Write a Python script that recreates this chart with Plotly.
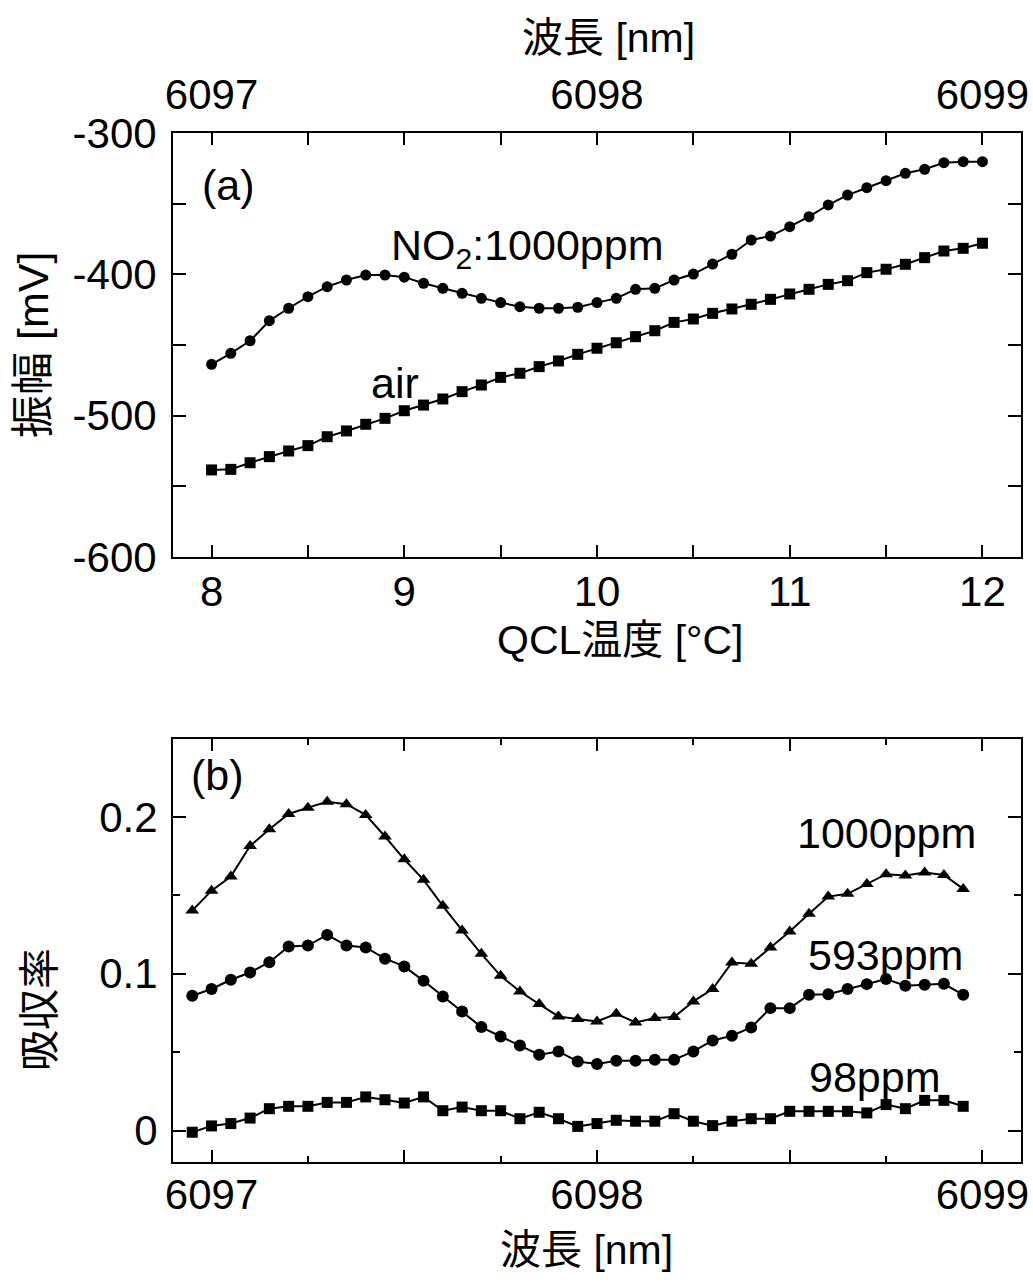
import numpy as np
import plotly.graph_objects as go

# ---- data -------------------------------------------------------------
# (a) amplitude vs. QCL temperature
temp_c = np.round(np.linspace(8.0, 12.0, 41), 2).tolist()
amp_no2 = [-463.7, -455.9, -447.0, -432.8, -424.0, -415.8, -408.7, -404.0, -400.5, -400.5,
           -402.0, -406.3, -409.9, -413.4, -417.0, -420.0, -422.9, -424.0, -424.0, -423.3,
           -420.0, -417.0, -410.6, -409.9, -404.0, -399.8, -392.7, -385.8, -375.7, -372.9,
           -366.3, -359.2, -350.9, -343.9, -338.7, -333.7, -328.5, -325.7, -321.0, -320.3,
           -320.3]
amp_air = [-538.4, -538.0, -533.3, -529.0, -525.0, -521.2, -514.9, -510.8, -506.1, -501.9,
           -496.5, -492.5, -488.2, -483.0, -478.3, -472.9, -470.0, -465.3, -461.3, -456.6,
           -452.3, -448.4, -444.1, -439.9, -434.0, -431.6, -427.6, -424.5, -421.2, -417.7,
           -413.9, -410.6, -407.1, -404.5, -398.8, -396.4, -392.9, -388.2, -383.5, -381.6,
           -378.0]
amp_ticks = [-600, -500, -400, -300]
amp_ticktext = ["-600", "-500", "-400", "-300"]

# (b) absorbance vs. wavelength
wavelength_nm = np.round(np.linspace(6096.95, 6098.95, 41), 3).tolist()
abs_1000 = [0.1403, 0.1530, 0.1620, 0.1815, 0.1921, 0.2019, 0.2059, 0.2097, 0.2081, 0.2013,
            0.1875, 0.1730, 0.1599, 0.1433, 0.1276, 0.1127, 0.0987, 0.0887, 0.0807, 0.0728,
            0.0711, 0.0696, 0.0745, 0.0690, 0.0718, 0.0724, 0.0824, 0.0903, 0.1072, 0.1064,
            0.1168, 0.1269, 0.1382, 0.1492, 0.1510, 0.1573, 0.1635, 0.1626, 0.1645, 0.1630,
            0.1541]
abs_593 = [0.0860, 0.0903, 0.0962, 0.1008, 0.1074, 0.1174, 0.1180, 0.1248, 0.1180, 0.1168,
           0.1096, 0.1047, 0.0955, 0.0855, 0.0760, 0.0660, 0.0600, 0.0543, 0.0484, 0.0505,
           0.0441, 0.0425, 0.0446, 0.0446, 0.0452, 0.0452, 0.0505, 0.0575, 0.0605, 0.0658,
           0.0781, 0.0781, 0.0866, 0.0870, 0.0903, 0.0934, 0.0966, 0.0924, 0.0930, 0.0936,
           0.0866]
abs_98 = [-0.0010, 0.0030, 0.0045, 0.0080, 0.0140, 0.0155, 0.0155, 0.0180, 0.0180, 0.0215,
          0.0197, 0.0176, 0.0215, 0.0127, 0.0150, 0.0127, 0.0127, 0.0076, 0.0117, 0.0076,
          0.0027, 0.0045, 0.0066, 0.0060, 0.0060, 0.0108, 0.0060, 0.0032, 0.0060, 0.0076,
          0.0076, 0.0123, 0.0123, 0.0123, 0.0123, 0.0113, 0.0166, 0.0140, 0.0193, 0.0193,
          0.0155]
wl_ticks = [6097, 6098, 6099]
wl_half_ticks = [6097.5, 6098.5]
abs_ticks = [0, 0.1, 0.2]
abs_ticktext = ["0", "0.1", "0.2"]

# ---- style ------------------------------------------------------------
W, H = 1033, 1282
LATIN = "Liberation Sans, Arial, Helvetica, sans-serif"
MIXED = "Liberation Sans, Noto Sans CJK JP, sans-serif"
FS_TICK = 42
FS_LABEL = 43
FS_TITLE = 41
BLACK = "#000000"

def px_x(p):
    return p / W

def px_y(p):
    return 1 - p / H

xdom = [px_x(173), px_x(1021)]
ydom_a = [px_y(557), px_y(133)]
ydom_b = [px_y(1162), px_y(738.5)]

line = dict(color=BLACK, width=2)

fig = go.Figure()

def add_series(x, y, symbol, size, xa, ya):
    fig.add_trace(go.Scatter(
        x=x, y=y, mode="lines+markers", xaxis=xa, yaxis=ya,
        line=line, marker=dict(symbol=symbol, size=size, color=BLACK),
        showlegend=False, hoverinfo="skip"))

add_series(temp_c, amp_no2, "circle", 11, "x", "y")
add_series(temp_c, amp_air, "square", 11, "x", "y")
add_series(wavelength_nm, abs_1000, "triangle-up", 12, "x3", "y3")
add_series(wavelength_nm, abs_593, "circle", 12, "x3", "y3")
add_series(wavelength_nm, abs_98, "square", 11, "x3", "y3")

# empty traces so the tick-only overlay axes are rendered
fig.add_trace(go.Scatter(x=[], y=[], xaxis="x2", yaxis="y", showlegend=False))
fig.add_trace(go.Scatter(x=[], y=[], xaxis="x4", yaxis="y3", showlegend=False))

tickfont = dict(family=LATIN, size=FS_TICK, color=BLACK)
common = dict(showline=True, linecolor=BLACK, linewidth=2, ticks="inside",
              tickcolor=BLACK, tickwidth=2, tickfont=tickfont, showgrid=False,
              zeroline=False, automargin=False)

def minor(dtick, tick0, ticklen):
    return dict(dtick=dtick, tick0=tick0, ticklen=ticklen, ticks="inside",
                tickcolor=BLACK, tickwidth=2, showgrid=False)

fig.update_layout(
    width=W, height=H, margin=dict(l=0, r=0, t=0, b=0),
    paper_bgcolor="white", plot_bgcolor="white",
    # (a) temperature axis + wavelength axis on top
    xaxis=dict(domain=xdom, anchor="y", range=[7.8, 12.2], tick0=8, dtick=1,
               ticklen=12, mirror=True, ticklabelstandoff=-3,
               minor=minor(0.5, 8, 12), **common),
    xaxis2=dict(domain=xdom, anchor="y", overlaying="x", side="top",
                range=[6096.9, 6099.1], tickvals=wl_ticks, ticklen=12,
                ticklabelstandoff=5, minor=minor(0.25, 6097, 12), **common),
    yaxis=dict(domain=ydom_a, anchor="x", range=[-600, -300],
               tickvals=amp_ticks, ticktext=amp_ticktext,
               ticklen=13, mirror="ticks", ticklabelstandoff=6,
               minor=minor(50, -600, 13), **common),
    # (b) wavelength axis
    xaxis3=dict(domain=xdom, anchor="y3", range=[6096.9, 6099.1],
                tickvals=wl_ticks, ticklen=12, mirror="ticks", ticklabelstandoff=-5,
                minor=minor(0.25, 6097, 6), **common),
    xaxis4=dict(domain=xdom, anchor="y3", overlaying="x3", range=[6096.9, 6099.1],
                tickvals=wl_half_ticks, ticklen=12, mirror="ticks",
                showticklabels=False, **common),
    yaxis3=dict(domain=ydom_b, anchor="x3", range=[-0.02, 0.25],
                tickvals=abs_ticks, ticktext=abs_ticktext, ticklen=13,
                mirror="ticks", ticklabelstandoff=5,
                minor=minor(0.05, 0, 7), **common),
)

def label(text, x, y, xref, yref, family=LATIN, angle=0, size=FS_LABEL):
    fig.add_annotation(text=text, x=x, y=y, xref=xref, yref=yref, showarrow=False,
                       xanchor="center", yanchor="middle", textangle=angle,
                       font=dict(family=family, size=size, color=BLACK))

# in-plot labels
label("(a)", 8.09, -336.8, "x", "y")
label("NO<sub>2</sub>:1000ppm", 9.64, -381.4, "x", "y")
label("air", 8.95, -476.9, "x", "y")
label("(b)", 6097.016, 0.2268, "x3", "y3")
label("1000ppm", 6098.751, 0.1898, "x3", "y3")
label("593ppm", 6098.749, 0.1121, "x3", "y3")
label("98ppm", 6098.72, 0.0344, "x3", "y3")

# axis titles
label("波長 [nm]", px_x(608), px_y(38), "paper", "paper", family=MIXED, size=FS_TITLE)
label("QCL温度 [°C]", px_x(620), px_y(640), "paper", "paper", family=MIXED, size=FS_TITLE)
label("振幅 [mV]", px_x(33), px_y(345), "paper", "paper", family=MIXED, angle=-90,
      size=43)
label("吸収率", px_x(40), px_y(1010), "paper", "paper", family=MIXED, angle=-90,
      size=FS_TITLE)
label("波長 [nm]", px_x(586), px_y(1250), "paper", "paper", family=MIXED, size=FS_TITLE)

fig.write_html("out.html")
